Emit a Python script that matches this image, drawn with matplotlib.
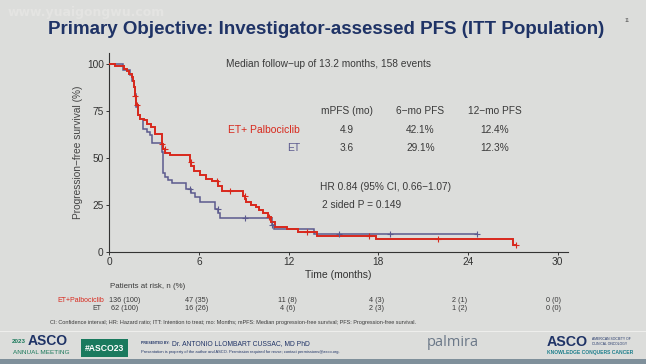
import numpy as np
import matplotlib
matplotlib.use("Agg")
import matplotlib.pyplot as plt
from matplotlib.patches import Rectangle
from matplotlib.lines import Line2D

# ---------------- data ----------------
red_t = [0, 0.35, 0.7, 1.0, 1.2, 1.35, 1.5, 1.6, 1.66, 1.73, 1.8, 1.89, 2.07, 2.3,
         2.52, 2.8, 3.08, 3.5, 3.62, 3.75, 4.06, 5.4, 5.5, 5.7, 6.05, 6.5, 6.9, 7.29,
         7.52, 8.97, 9.1, 9.15, 9.5, 9.85, 10.05, 10.3, 10.64, 10.85, 11.1, 11.87,
         12.6, 13.9, 17.86, 27.0, 27.25]
red_s = [100, 99.3, 98.8, 97.5, 96.5, 95, 93, 91, 88, 83, 78, 73, 71, 70,
         68, 66.5, 62.7, 57.3, 55, 52.8, 51.5, 48, 45.5, 42.9, 41.1, 38.8, 37.5, 35.2,
         32.2, 29.5, 28, 26.3, 25, 23.8, 22.4, 20.6, 18.5, 15.7, 13.2, 12.2,
         10.3, 8.5, 6.6, 3.6, 3.6]
red_cens = [1.75, 1.85, 3.55, 3.7, 5.45, 7.2, 8.05, 9.05, 10.7, 13.2, 17.4, 22.0, 27.2]

blue_t = [0, 0.94, 1.38, 1.51, 1.62, 1.73, 1.8, 1.89, 2.07, 2.25, 2.52, 2.7, 2.85,
          3.5, 3.62, 3.75, 3.9, 4.2, 5.13, 5.45, 5.75, 6.1, 7.07, 7.3, 7.4, 10.86,
          11.0, 13.67, 24.6]
blue_s = [100, 97, 94, 91, 88, 84, 77, 73, 71, 65.7, 64, 62, 57.8,
          53, 41.8, 40, 38, 36.4, 33.7, 31.4, 29.3, 26.6, 23, 20.4, 17.8, 14,
          12, 9.4, 9.4]
blue_cens = [5.4, 7.25, 9.05, 10.9, 15.4, 18.8, 24.6]

x_ticks = [0, 6, 12, 18, 24, 30]
y_ticks = [0, 25, 50, 75, 100]

groups = ["ET+ Palbociclib", "ET"]
stat_headers = ["mPFS (mo)", "6\u2212mo PFS", "12\u2212mo PFS"]
stat_values = [["4.9", "42.1%", "12.4%"], ["3.6", "29.1%", "12.3%"]]

risk_labels = ["ET+Palbociclib", "ET"]
risk_red = ["136 (100)", "47 (35)", "11 (8)", "4 (3)", "2 (1)", "0 (0)"]
risk_blue = ["62 (100)", "16 (26)", "4 (6)", "2 (3)", "1 (2)", "0 (0)"]

# ---------------- style ----------------
W, H = 646, 364
BG = "#dcdddb"
RED = "#d8281c"
BLUE = "#5c5a8e"
NAVY = "#1f3366"
TXT = "#3a3a3a"
GREEN = "#1d7a5c"

fig = plt.figure(figsize=(W / 100, H / 100), dpi=100, facecolor=BG)


def T(x, y, s, **kw):
    kw.setdefault("va", "center")
    kw.setdefault("family", ["Liberation Sans", "DejaVu Sans"])
    return fig.text(x / W, 1 - y / H, s, **kw)


# ---------------- axes ----------------
ax_l, ax_r = 109.3, 568.0
ax_b, ax_t = 251.7, 53.0
ax = fig.add_axes([ax_l / W, 1 - ax_b / H, (ax_r - ax_l) / W, (ax_b - ax_t) / H])
ax.set_facecolor(BG)
ax.set_xlim(0, 30.7)
ax.set_ylim(0, 106)
for s in ["top", "right"]:
    ax.spines[s].set_visible(False)
for s in ["left", "bottom"]:
    ax.spines[s].set_color("#333333")
    ax.spines[s].set_linewidth(0.8)
ax.set_xticks(x_ticks)
ax.set_yticks(y_ticks)
ax.tick_params(axis="both", direction="out", length=2.5, width=0.7, colors="#333333",
               labelsize=7.3, pad=1.5)
for lab in ax.get_xticklabels() + ax.get_yticklabels():
    lab.set_family(["Liberation Sans", "DejaVu Sans"])
ax.set_ylabel("Progression\u2212free survival (%)", fontsize=7.3, color="#444444",
              family=["Liberation Sans", "DejaVu Sans"], labelpad=3)
ax.set_xlabel("Time (months)", fontsize=7.5, color="#333333",
              family=["Liberation Sans", "DejaVu Sans"], labelpad=2)


def step_val(t, s, x):
    i = np.searchsorted(np.asarray(t), x, side="right") - 1
    return np.asarray(s)[i]


ax.step(red_t, red_s, where="post", color=RED, lw=1.4, zorder=4, solid_joinstyle="miter")
ax.step(blue_t, blue_s, where="post", color=BLUE, lw=1.1, zorder=3, solid_joinstyle="miter")
ax.plot(red_cens, [step_val(red_t, red_s, c) for c in red_cens], ls="none", marker="+",
        ms=4, mew=0.8, color=RED, zorder=5)
ax.plot(blue_cens, [step_val(blue_t, blue_s, c) for c in blue_cens], ls="none", marker="+",
        ms=4, mew=0.8, color=BLUE, zorder=5)

# ---------------- annotations inside plot ----------------
T(225.7, 64, "Median follow\u2212up of 13.2 months, 158 events", fontsize=7.3, color=TXT)
hx = [347, 420.5, 494.5]
for x, h in zip(hx, stat_headers):
    T(x, 111, h, fontsize=7.3, color=TXT, ha="center")
T(300, 130, groups[0], fontsize=7.5, color=RED, ha="right")
T(300, 148.3, groups[1], fontsize=7.5, color=BLUE, ha="right")
for row, y in zip(stat_values, [130, 148.3]):
    for x, v in zip(hx, row):
        T(x, y, v, fontsize=7.3, color=TXT, ha="center")
T(320, 186.7, "HR 0.84 (95% CI, 0.66\u22121.07)", fontsize=7.3, color=TXT)
T(321.5, 205, "2 sided P = 0.149", fontsize=7.3, color=TXT)

# ---------------- title / header ----------------
T(8, 12.5, "www.yuaigongwu.com", fontsize=9, color="#e4e4e2", weight="bold",
  family=["DejaVu Sans"])
T(326, 29, "Primary Objective: Investigator-assessed PFS (ITT Population)", fontsize=13.5,
  color=NAVY, weight="bold", ha="center", family=["Liberation Sans", "DejaVu Sans"])
T(625, 20, "11", fontsize=3.5, color="#555555")

# ---------------- at-risk table ----------------
T(110, 287, "Patients at risk, n (%)", fontsize=5.7, color=TXT)
risk_x = [125, 196.7, 287.5, 376.7, 460, 553.7]
T(104, 300, risk_labels[0], fontsize=5.0, color=RED, ha="right")
T(101, 309, risk_labels[1], fontsize=5.0, color=TXT, ha="right")
for x, a, b in zip(risk_x, risk_red, risk_blue):
    T(x, 300, a, fontsize=5.2, color=TXT, ha="center")
    T(x, 309, b, fontsize=5.2, color=TXT, ha="center")
T(50, 322.5, "CI: Confidence interval; HR: Hazard ratio; ITT: Intention to treat; mo: Months; "
  "mPFS: Median progression-free survival; PFS: Progression-free survival.",
  fontsize=4.0, color=TXT)

# ---------------- footer ----------------
fig.add_artist(Line2D([0, 1], [1 - 330.5 / H, 1 - 330.5 / H], color="#eeeeec", lw=0.8))
fig.add_artist(Rectangle((0, 0), 1, 5 / H, transform=fig.transFigure, color="#7f909b", lw=0))
T(12.0, 341.8, "2023", fontsize=4.5, color=GREEN, weight="bold")
T(27.5, 340.8, "ASCO", fontsize=10.0, color=NAVY, weight="bold")
T(12.7, 352.7, "ANNUAL MEETING", fontsize=4.6, color=GREEN)
fig.add_artist(Rectangle((81 / W, 1 - 357.3 / H), (127.7 - 81) / W, (357.3 - 339) / H,
                         transform=fig.transFigure, color="#1a7a5e", lw=0))
T(104.3, 348.3, "#ASCO23", fontsize=6.2, color="white", weight="bold", ha="center")
T(141, 343.3, "PRESENTED BY:", fontsize=2.5, color=NAVY, weight="bold")
T(171.7, 343.3, "Dr. ANTONIO LLOMBART CUSSAC, MD PhD", fontsize=4.9, color=NAVY)
T(141, 352.5, "Presentation is property of the author and ASCO. Permission required for reuse; "
  "contact permissions@asco.org.", fontsize=2.9, color=NAVY)
T(452.5, 342.5, "palmira", fontsize=10.5, color="#6b7888", ha="center",
  family=["Open Sans", "DejaVu Sans"])
T(546.7, 342.5, "ASCO", fontsize=10.3, color=NAVY, weight="bold")
T(592, 339.5, "AMERICAN SOCIETY OF", fontsize=2.4, color=NAVY)
T(592, 344.3, "CLINICAL ONCOLOGY", fontsize=2.4, color=NAVY)
T(546.7, 352.7, "KNOWLEDGE CONQUERS CANCER", fontsize=3.6, color="#1d7f8c", weight="bold")

fig.savefig("out.png", dpi=100, facecolor=BG)
